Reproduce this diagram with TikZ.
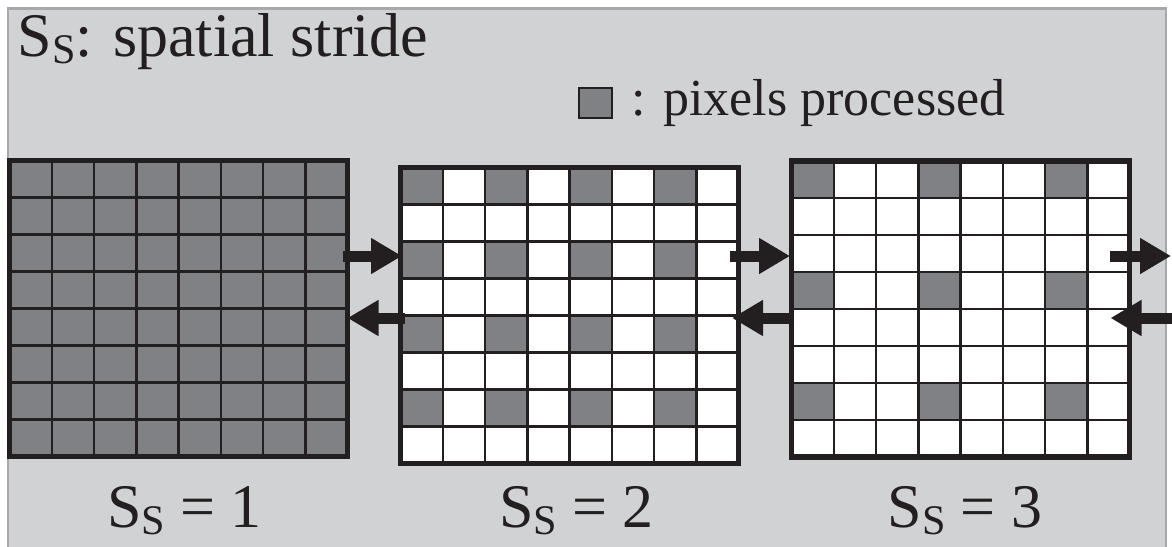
\documentclass[tikz,border=0pt]{standalone}
\usepackage{fontspec}
\setmainfont{Liberation Serif}
\usepackage{graphicx}
\usetikzlibrary{arrows.meta,positioning,calc}
\definecolor{PanelGrey}{HTML}{D1D2D4}
\definecolor{PanelEdge}{HTML}{A7A8AA}
\definecolor{PixelGrey}{HTML}{808185}
\definecolor{InkBlack}{HTML}{231F20}
\newcommand{\strideS}{S\raisebox{-0.12em}{\scalebox{0.68}{S}}}
\newcommand{\bigsize}{\fontsize{62pt}{62pt}\selectfont}
\newcommand{\keysize}{\fontsize{52pt}{52pt}\selectfont}
\tikzset{
  panel/.style={fill=PanelGrey,draw=PanelEdge,line width=2.5pt},
  gridbox/.style={
    rectangle,
    inner sep=0pt,
    outer sep=0pt,
    minimum width=338pt,
    minimum height=296pt,
    fill=white
  },
  gridline/.style={draw=InkBlack,line width=2.5pt},
  gridframe/.style={draw=InkBlack,line width=5.5pt},
  pixel/.style={fill=PixelGrey},
  legendkey/.style={
    rectangle,
    inner sep=0pt,
    minimum width=33pt,
    minimum height=30pt,
    fill=PixelGrey,
    draw=InkBlack,
    line width=2pt
  },
  stridelabel/.style={anchor=base,font=\bigsize,text=InkBlack},
  flowarrow/.style={-{Triangle[length=31pt,width=34pt]},line width=11pt,draw=InkBlack}
}

\begin{document}
\begin{tikzpicture}[x=1pt,y=-1pt]
    \useasboundingbox (0,0) rectangle (1172,546);
    \fill[PanelGrey] (8,8.5) rectangle (1166,547);
    \draw[panel,fill=none] (8,547) |- (1166,8.5) -- (1166,547);

    \node[anchor=base west,font=\bigsize,text=InkBlack] (title) at (14,56) {\strideS: spatial stride};
    \node[legendkey] (key) at (595,102.5) {};
    \node[anchor=base west,font=\keysize,text=InkBlack] (keytext) at (628,115) {: pixels processed};

    \node[gridbox] (g1) at (178.5,308.5) {};
    \node[gridbox] (g2) at (569.5,315.5) {};
    \node[gridbox] (g3) at (960.5,308.75) {};

    % processed pixels, every s-th row and column
    \foreach \g/\s in {g1/1,g2/2,g3/3} {
      \foreach \r in {0,...,7} {
        \foreach \c in {0,...,7} {
          \pgfmathtruncatemacro{\hit}{(mod(\r,\s)==0)*(mod(\c,\s)==0)}
          \ifnum\hit=1
            \fill[pixel,shift={(\g.north west)}] (\c*42.25,\r*37) rectangle ++(42.25,37);
          \fi
        }
      }
      \foreach \k in {1,...,7} {
        \draw[gridline] ($(\g.north west)+(\k*42.25,0)$) -- ($(\g.south west)+(\k*42.25,0)$);
        \draw[gridline] ($(\g.north west)+(0,\k*37)$) -- ($(\g.north east)+(0,\k*37)$);
      }
      \draw[gridframe] (\g.north west) rectangle (\g.south east);
    }

    \node[stridelabel] (lab1) at (184.5,527) {\strideS{} = 1};
    \node[stridelabel] (lab2) at (576.5,527) {\strideS{} = 2};
    \node[stridelabel] (lab3) at (965,527) {\strideS{} = 3};

    \coordinate (fwd) at (0,256);
    \coordinate (bwd) at (0,318);
    \coordinate (outfwd) at (1171,256);
    \coordinate (inbwd) at (1174,318);

    \draw[flowarrow] ($(g1.east |- fwd)+(-4.5,0)$) -- ($(g2.west |- fwd)+(1.5,0)$);
    \draw[flowarrow] ($(g2.west |- bwd)+(4.5,0)$) -- (g1.east |- bwd);
    \draw[flowarrow] ($(g2.east |- fwd)+(-8.5,0)$) -- ($(g3.west |- fwd)+(-1.5,0)$);
    \draw[flowarrow] ($(g3.west |- bwd)+(0.5,0)$) -- ($(g2.east |- bwd)+(-6.5,0)$);
    \draw[flowarrow] ($(g3.east |- fwd)+(-19.5,0)$) -- (outfwd);
    \draw[flowarrow] (inbwd) -- ($(g3.east |- bwd)+(-19,0)$);
  \end{tikzpicture}
\end{document}
